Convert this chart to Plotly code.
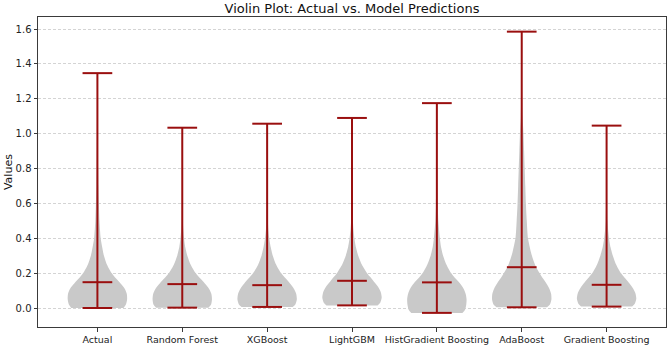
import plotly.graph_objects as go

# ---------------- data ----------------
models = ["Actual", "Random Forest", "XGBoost", "LightGBM",
          "HistGradient Boosting", "AdaBoost", "Gradient Boosting"]
maxima = [1.347, 1.034, 1.057, 1.090, 1.175, 1.585, 1.046]
minima = [0.000, 0.002, 0.006, 0.015, -0.028, 0.004, 0.008]
centers = [0.148, 0.137, 0.131, 0.156, 0.147, 0.234, 0.133]

# violin outlines: value levels and relative half-width (0..1)
actual_y = [0.0, 0.02, 0.05, 0.08, 0.11, 0.14, 0.17, 0.2, 0.25, 0.3, 0.35, 0.4, 0.5, 0.6, 0.7, 0.8, 1.0, 1.2, 1.347]
actual_w = [0.88, 0.96, 1.0, 0.99, 0.92, 0.78, 0.62, 0.48, 0.32, 0.22, 0.16, 0.11, 0.07, 0.05, 0.035, 0.025, 0.015, 0.01, 0.008]

rf_y = [0.002, 0.02, 0.05, 0.08, 0.11, 0.14, 0.17, 0.2, 0.25, 0.3, 0.35, 0.4, 0.45, 0.5, 0.7, 1.034]
rf_w = [0.88, 0.97, 1.0, 0.98, 0.9, 0.76, 0.6, 0.45, 0.28, 0.17, 0.1, 0.06, 0.035, 0.02, 0.008, 0.004]

xgb_y = [0.006, 0.02, 0.05, 0.08, 0.11, 0.14, 0.17, 0.2, 0.25, 0.3, 0.35, 0.4, 0.45, 0.5, 0.7, 1.057]
xgb_w = [0.86, 0.95, 1.0, 0.98, 0.9, 0.77, 0.62, 0.47, 0.3, 0.19, 0.12, 0.07, 0.04, 0.025, 0.01, 0.004]

lgbm_y = [0.015, 0.03, 0.06, 0.09, 0.12, 0.15, 0.18, 0.21, 0.25, 0.3, 0.35, 0.4, 0.45, 0.5, 0.7, 1.09]
lgbm_w = [0.86, 0.95, 1.0, 0.97, 0.88, 0.74, 0.6, 0.47, 0.33, 0.21, 0.13, 0.08, 0.05, 0.03, 0.01, 0.004]

hgb_y = [-0.028, -0.01, 0.02, 0.05, 0.08, 0.11, 0.14, 0.17, 0.2, 0.25, 0.3, 0.35, 0.4, 0.5, 0.6, 0.8, 1.175]
hgb_w = [0.86, 0.95, 0.99, 1.0, 0.97, 0.9, 0.78, 0.62, 0.48, 0.32, 0.21, 0.14, 0.1, 0.05, 0.03, 0.012, 0.005]

ada_y = [0.004, 0.02, 0.05, 0.08, 0.11, 0.14, 0.17, 0.2, 0.24, 0.28, 0.32, 0.4, 0.5, 0.6, 0.7, 0.8, 0.9, 1.0, 1.1, 1.3, 1.585]
ada_w = [0.85, 0.95, 1.0, 0.99, 0.93, 0.83, 0.71, 0.6, 0.47, 0.38, 0.31, 0.21, 0.17, 0.14, 0.12, 0.1, 0.08, 0.06, 0.03, 0.01, 0.005]

gb_y = [0.008, 0.025, 0.055, 0.085, 0.115, 0.145, 0.175, 0.2, 0.25, 0.3, 0.35, 0.4, 0.45, 0.5, 0.7, 1.046]
gb_w = [0.86, 0.95, 1.0, 0.97, 0.88, 0.75, 0.6, 0.48, 0.32, 0.21, 0.13, 0.08, 0.05, 0.03, 0.01, 0.004]

ytick_vals = [0.0, 0.2, 0.4, 0.6, 0.8, 1.0, 1.2, 1.4, 1.6]

# ---------------- styles ----------------
VIOLIN_WIDTH = 0.7
FILL = "#c9c9c9"
RED = "#9a0f0f"

profiles = [(actual_y, actual_w), (rf_y, rf_w), (xgb_y, xgb_w), (lgbm_y, lgbm_w),
            (hgb_y, hgb_w), (ada_y, ada_w), (gb_y, gb_w)]
positions = list(range(1, len(models) + 1))

fig = go.Figure()

half = VIOLIN_WIDTH / 2
for pos, (ys, ws) in zip(positions, profiles):
    xr = [pos + w * half for w in ws]
    xl = [pos - w * half for w in reversed(ws)]
    fig.add_trace(go.Scatter(
        x=xr + xl, y=ys + list(reversed(ys)),
        mode="lines", fill="toself", fillcolor=FILL,
        line=dict(width=0, color=FILL, shape="spline", smoothing=0.6),
        hoverinfo="skip", showlegend=False))

cap = VIOLIN_WIDTH / 4
lx, ly = [], []
for pos, lo, hi, c in zip(positions, minima, maxima, centers):
    lx += [pos, pos, None]
    ly += [lo, hi, None]
    for v in (lo, hi, c):
        lx += [pos - cap, pos + cap, None]
        ly += [v, v, None]
fig.add_trace(go.Scatter(x=lx, y=ly, mode="lines",
                         line=dict(color=RED, width=2),
                         hoverinfo="skip", showlegend=False))

axis_col = "#3a3a3a"
fig.update_layout(
    width=669, height=347,
    margin=dict(l=38, r=2, t=17, b=18),
    paper_bgcolor="white", plot_bgcolor="white",
    font=dict(family="DejaVu Sans", color="#222", size=10),
    title=dict(text="Violin Plot: Actual vs. Model Predictions",
               font=dict(size=13, color="#111"),
               x=0.5, xref="paper", xanchor="center",
               y=1 - 8.5 / 347, yref="container", yanchor="middle"),
    xaxis=dict(range=[0.3, 7.7], tickvals=positions, ticktext=models,
               showgrid=False, zeroline=False,
               showline=True, mirror=True, linecolor=axis_col, linewidth=1,
               ticks="outside", ticklen=3.5, tickcolor=axis_col,
               tickfont=dict(size=9.5)),
    yaxis=dict(range=[-0.109, 1.669], tickvals=ytick_vals, tickformat=".1f",
               showgrid=True, gridcolor="#d4d4d4", griddash="3px,2px", gridwidth=1,
               zeroline=False,
               showline=True, mirror=True, linecolor=axis_col, linewidth=1,
               ticks="outside", ticklen=3.5, tickcolor=axis_col,
               tickfont=dict(size=10)),
    annotations=[dict(text="Values", textangle=-90, xref="paper", yref="paper",
                      x=-30 / 629, y=0.5, xanchor="center", yanchor="middle",
                      showarrow=False, font=dict(size=11, color="#111"))],
)

fig.write_html("out.html", config={"displayModeBar": False},
               post_script="document.body.style.margin='0';document.body.style.padding='0';")
